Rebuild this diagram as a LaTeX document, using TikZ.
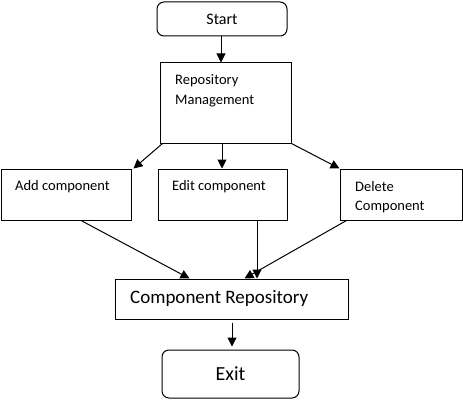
\documentclass[tikz,border=0pt]{standalone}
\usepackage{fontspec}
\setmainfont{Carlito}
\usetikzlibrary{arrows.meta,calc}
\begin{document}
\begin{tikzpicture}[x=1pt,y=-1pt,
  box/.style={draw,line width=1pt,inner sep=0pt},
  rbox/.style={box,rounded corners=7pt},
  txt/.style={anchor=west,inner sep=0pt,font=\fontsize{14.5}{17}\selectfont},
  arr/.style={line width=1pt,-{Triangle[length=9pt,width=9pt]}}]
\useasboundingbox (0,0) rectangle (463,404);
% boxes
\node[rbox,minimum width=130pt,minimum height=34pt,font=\fontsize{16}{19}\selectfont] (start) at (222,19) {Start};
\node[box,minimum width=131pt,minimum height=80pt] (rm) at (225.5,103) {};
\node[box,minimum width=130pt,minimum height=51pt] (add) at (66,194.5) {};
\node[box,minimum width=129pt,minimum height=51pt] (edit) at (222.5,194.5) {};
\node[box,minimum width=122pt,minimum height=51pt] (del) at (401,194.5) {};
\node[box,minimum width=233pt,minimum height=40pt] (cr) at (231.5,299) {};
\node[rbox,minimum width=137pt,minimum height=48pt,font=\fontsize{20}{24}\selectfont] (exit) at (230.5,374) {Exit};
% texts
\node[txt] (t1) at (175,81) {Repository};
\node[txt] (t2) at (175,101) {Management};
\node[txt] (t3) at (15,187) {Add component};
\node[txt] (t4) at (172,187) {Edit component};
\node[txt] (t5) at (355,187) {Delete};
\node[txt] (t6) at (355,207) {Component};
\node[txt,font=\fontsize{19}{23}\selectfont] (t7) at (130,298) {Component Repository};
% connectors
\draw[arr] ($(start.south)+(-1,0)$) -- ($(start.south |- rm.north)+(-1,0)$);
\draw[arr] ($(rm.south west)+(3,0)$) -- ($(add.north east)+(2,0)$);
\draw[arr] ($(rm.south)+(-3.5,0)$) -- ($(edit.north)+(-0.5,0)$);
\draw[arr] (rm.south east) -- (del.north west);
\draw[arr] ($(add.south)+(15,0)$) -- ($(cr.north west)+(75,0)$);
\draw[arr] ($(edit.south)+(34.5,0)$) -- ($(edit.south |- cr.north)+(34.5,0)$);
\draw[arr] ($(del.south west)+(7,0)$) -- ($(cr.north west)+(130,0)$);
\draw[arr] ($(cr.south)+(0.5,3)$) -- ($(exit.north)+(1.5,-3)$);
\end{tikzpicture}
\end{document}
